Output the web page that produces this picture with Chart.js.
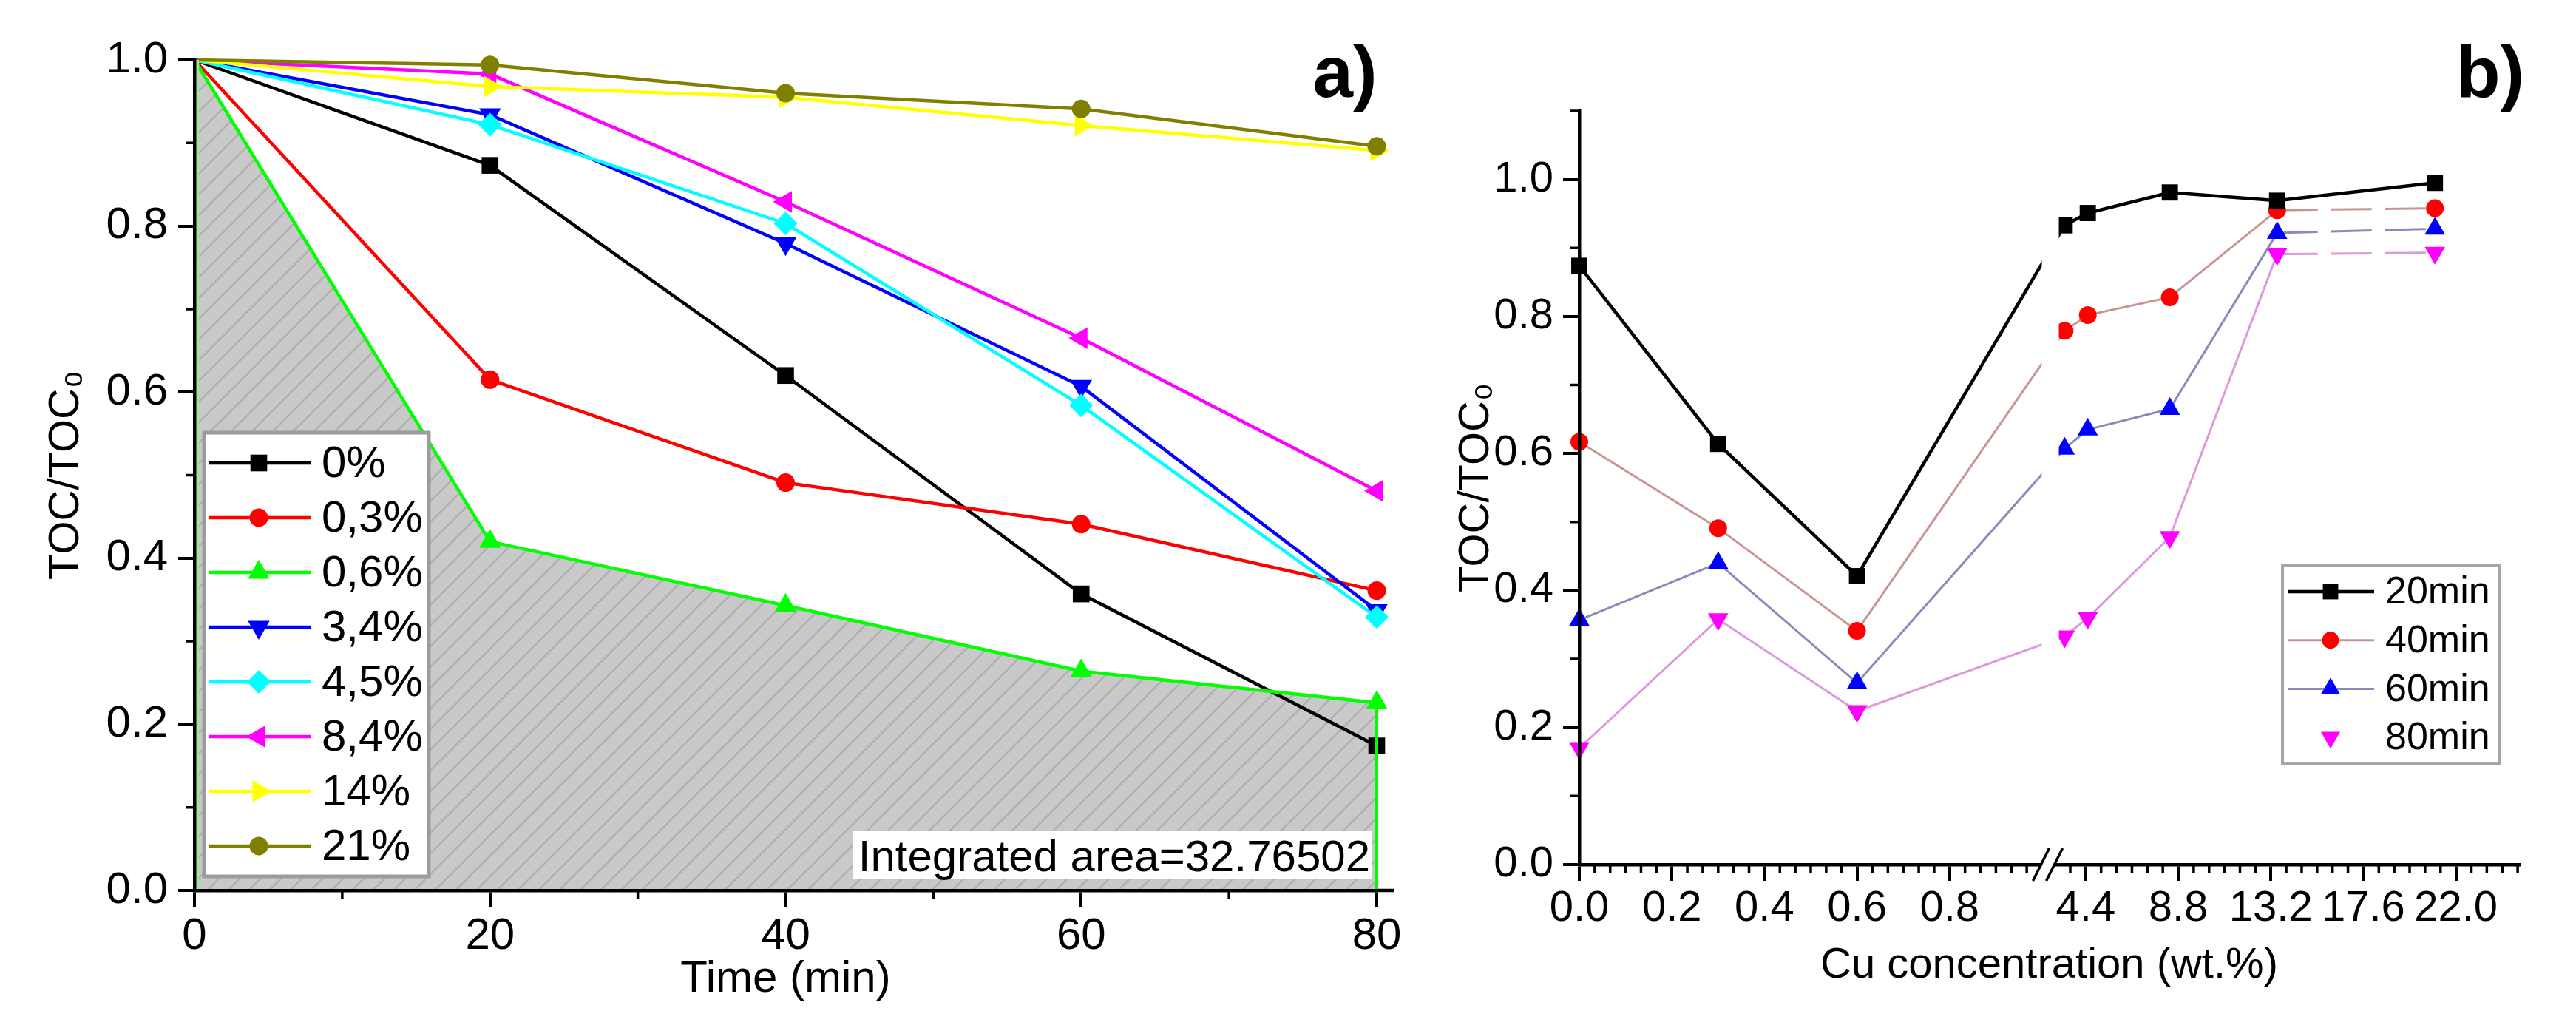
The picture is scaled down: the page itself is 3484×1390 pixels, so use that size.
<!DOCTYPE html>
<html><head><meta charset="utf-8">
<script src="https://cdn.jsdelivr.net/npm/chart.js@4.4.1/dist/chart.umd.min.js"></script>
<style>
html,body{margin:0;padding:0;background:#fff;}
body{width:3484px;height:1390px;position:relative;overflow:hidden;}
#wa{position:absolute;left:0;top:0;width:1950px;height:1390px;}
#wb{position:absolute;left:1950px;top:0;width:1534px;height:1390px;}
</style></head><body>
<div id="wa"><canvas id="ca"></canvas></div>
<div id="wb"><canvas id="cb"></canvas></div>
<script>
// ---------------- DATA ----------------
// Panel a) : TOC/TOC0 vs time for each Cu loading
const timeMin = [0, 20, 40, 60, 80];
const labelsA = ['0%', '0,3%', '0,6%', '3,4%', '4,5%', '8,4%', '14%', '21%'];
const toc_0pct  = [1.0, 0.873, 0.620, 0.357, 0.174];
const toc_03pct = [1.0, 0.615, 0.491, 0.441, 0.361];
const toc_06pct = [1.0, 0.420, 0.343, 0.264, 0.226];
const toc_34pct = [1.0, 0.934, 0.779, 0.607, 0.337];
const toc_45pct = [1.0, 0.922, 0.803, 0.584, 0.329];
const toc_84pct = [1.0, 0.983, 0.829, 0.665, 0.481];
const toc_14pct = [1.0, 0.968, 0.955, 0.921, 0.891];
const toc_21pct = [1.0, 0.994, 0.960, 0.941, 0.896];
const ticksA_x = [0, 20, 40, 60, 80];
const ticksA_y = [0, 0.2, 0.4, 0.6, 0.8, 1.0];
const areaText = 'Integrated area=32.76502';

// Panel b) : TOC/TOC0 vs Cu concentration for each time
const cuConc = [0, 0.3, 0.6, 3.4, 4.5, 8.4, 13.5, 21];
const labelsB = ['20min', '40min', '60min', '80min'];
const toc_20min = [0.874, 0.614, 0.421, 0.933, 0.951, 0.981, 0.969, 0.995];
const toc_40min = [0.617, 0.491, 0.341, 0.779, 0.802, 0.828, 0.955, 0.958];
const toc_60min = [0.357, 0.440, 0.265, 0.607, 0.635, 0.665, 0.922, 0.928];
const toc_80min = [0.170, 0.358, 0.224, 0.333, 0.360, 0.478, 0.891, 0.893];
const ticksB_x = [0, 0.2, 0.4, 0.6, 0.8, 4.4, 8.8, 13.2, 17.6, 22.0];
const ticksB_y = [0, 0.2, 0.4, 0.6, 0.8, 1.0];

// ---------------- STYLE ----------------
const FONT = "'Liberation Sans', Arial, Helvetica, sans-serif";
const brk = { end1: 0.98, start2: 3.3, end2: 25, unit1: 0.2, unit2: 4.4, gap: 0.32 };

function makeHatch() {
  const t = document.createElement('canvas'); t.width = 28; t.height = 28;
  const c = t.getContext('2d');
  c.fillStyle = '#c9c9c9'; c.fillRect(0, 0, 28, 28);
  c.strokeStyle = '#b0b0b0'; c.lineWidth = 2.5;
  c.beginPath();
  c.moveTo(-3, 31); c.lineTo(31, -3);
  c.moveTo(-3, 3); c.lineTo(3, -3);
  c.moveTo(25, 31); c.lineTo(31, 25);
  c.stroke();
  return c.createPattern(t, 'repeat');
}
const hatch = makeHatch();

const seriesA = [
  { label: labelsA[0], values: toc_0pct,  color: '#000000', style: 'rect',     rot: 0,   r: 16 },
  { label: labelsA[1], values: toc_03pct, color: '#ff0000', style: 'circle',   rot: 0,   r: 12.5 },
  { label: labelsA[2], values: toc_06pct, color: '#00ff00', style: 'triangle', rot: 0,   r: 17, fill: true },
  { label: labelsA[3], values: toc_34pct, color: '#0000ff', style: 'triangle', rot: 180, r: 17 },
  { label: labelsA[4], values: toc_45pct, color: '#00ffff', style: 'rectRot',  rot: 0,   r: 16 },
  { label: labelsA[5], values: toc_84pct, color: '#ff00ff', style: 'triangle', rot: -90, r: 17 },
  { label: labelsA[6], values: toc_14pct, color: '#ffff00', style: 'triangle', rot: 90,  r: 17 },
  { label: labelsA[7], values: toc_21pct, color: '#808000', style: 'circle',   rot: 0,   r: 12.5 }
];
const seriesB = [
  { label: labelsB[0], values: toc_20min, line: '#000000', marker: '#000000', style: 'rect',     rot: 0,   r: 15.5, w: 4.5, dashLast: false, legendLine: true },
  { label: labelsB[1], values: toc_40min, line: '#c99494', marker: '#ff0000', style: 'circle',   rot: 0,   r: 12,   w: 3,   dashLast: true,  legendLine: true },
  { label: labelsB[2], values: toc_60min, line: '#8a8ab8', marker: '#0000ff', style: 'triangle', rot: 0,   r: 16,   w: 3,   dashLast: true,  legendLine: true },
  { label: labelsB[3], values: toc_80min, line: '#dc9adc', marker: '#ff00ff', style: 'triangle', rot: 180, r: 16,   w: 3,   dashLast: true,  legendLine: false }
];

// ---------------- BROKEN AXIS SCALE ----------------
const LinearBase = Chart.LinearScale || Chart.registry.getScale('linear');
class BrokenLinearScale extends LinearBase {
  _u(v) {
    const u1 = brk.end1 / brk.unit1;
    if (v <= brk.end1) return v / brk.unit1;
    if (v >= brk.start2) return u1 + brk.gap + (v - brk.start2) / brk.unit2;
    return u1 + brk.gap * (v - brk.end1) / (brk.start2 - brk.end1);
  }
  getPixelForValue(v) {
    if (v === null || v === undefined || isNaN(v)) return NaN;
    return this.getPixelForDecimal(this._u(v) / this._u(brk.end2));
  }
  getValueForPixel(p) {
    const u = this.getDecimalForPixel(p) * this._u(brk.end2);
    const u1 = brk.end1 / brk.unit1;
    if (u <= u1) return u * brk.unit1;
    if (u >= u1 + brk.gap) return brk.start2 + (u - u1 - brk.gap) * brk.unit2;
    return brk.end1 + (u - u1) / brk.gap * (brk.start2 - brk.end1);
  }
}
BrokenLinearScale.id = 'brokenLinear';
BrokenLinearScale.defaults = {};
Chart.register(BrokenLinearScale);

// ---------------- HELPERS ----------------
function marker(ctx, style, rot, r, x, y, color) {
  ctx.save();
  ctx.fillStyle = color; ctx.strokeStyle = color;
  Chart.helpers.drawPoint(ctx, { pointStyle: style, rotation: rot, radius: r, borderWidth: 0 }, x, y);
  ctx.restore();
}
function drawMinor(chart, xs, ys, len) {
  const ctx = chart.ctx, a = chart.chartArea;
  const sx = chart.scales.x, sy = chart.scales.y;
  ctx.save(); ctx.strokeStyle = '#000'; ctx.lineWidth = 3.5; ctx.beginPath();
  xs.forEach(v => { const p = sx.getPixelForValue(v); ctx.moveTo(p, a.bottom); ctx.lineTo(p, a.bottom + len); });
  ys.forEach(v => { const p = sy.getPixelForValue(v); ctx.moveTo(a.left, p); ctx.lineTo(a.left - len, p); });
  ctx.stroke(); ctx.restore();
}
function drawLegend(chart, series, box, getLine, getMarker) {
  const ctx = chart.ctx;
  ctx.save();
  ctx.fillStyle = '#fff'; ctx.fillRect(box.x, box.y, box.w, box.h);
  ctx.strokeStyle = box.border; ctx.lineWidth = box.bw; ctx.strokeRect(box.x, box.y, box.w, box.h);
  series.forEach((s, i) => {
    const yy = box.row0 + i * box.rowH;
    const ln = getLine(s);
    if (ln) {
      ctx.strokeStyle = ln.color; ctx.lineWidth = ln.w;
      ctx.beginPath(); ctx.moveTo(box.lx1, yy); ctx.lineTo(box.lx2, yy); ctx.stroke();
    }
    const m = getMarker(s);
    marker(ctx, m.style, m.rot, m.r, box.mx, yy, m.color);
    ctx.fillStyle = '#000'; ctx.font = box.font; ctx.textBaseline = 'middle'; ctx.textAlign = 'left';
    ctx.fillText(s.label, box.tx, yy + 2);
  });
  ctx.restore();
}
function panelLabel(chart, text, x, y) {
  const ctx = chart.ctx;
  ctx.save(); ctx.fillStyle = '#000'; ctx.font = "bold 98px " + FONT;
  ctx.textAlign = 'center'; ctx.textBaseline = 'alphabetic';
  ctx.fillText(text, x, y); ctx.restore();
}
function axisOpts(o) {
  return {
    type: o.type || 'linear', min: o.min, max: o.max,
    afterBuildTicks: s => { s.ticks = o.ticks.map(v => ({ value: v })); },
    afterFit: o.fit,
    ticks: { color: '#000', font: { family: FONT, size: o.fs }, padding: o.pad, maxRotation: 0, autoSkip: false, callback: o.fmt },
    grid: { drawOnChartArea: false, drawTicks: true, tickLength: 22, tickWidth: 4, tickColor: '#000', lineWidth: 4, color: '#000' },
    border: { display: true, color: '#000', width: 4.5, z: 1 },
    title: { display: true, text: o.title, color: '#000', font: { family: FONT, size: o.tfs }, padding: o.tpad }
  };
}

// ---------------- PANEL A ----------------
const pluginA = {
  id: 'pa',
  afterDatasetsDraw(chart) {
    const ctx = chart.ctx, a = chart.chartArea, sx = chart.scales.x, sy = chart.scales.y;
    // edges of the filled area (0,6 % curve)
    const g = seriesA.find(s => s.fill);
    ctx.save();
    ctx.strokeStyle = '#9fe69f'; ctx.lineWidth = 4;
    ctx.beginPath(); ctx.moveTo(sx.getPixelForValue(timeMin[0]) + 4, sy.getPixelForValue(g.values[0])); ctx.lineTo(sx.getPixelForValue(timeMin[0]) + 4, sy.getPixelForValue(0)); ctx.stroke();
    ctx.strokeStyle = g.color; ctx.lineWidth = 4;
    const xl = sx.getPixelForValue(timeMin[timeMin.length - 1]);
    ctx.beginPath(); ctx.moveTo(xl, sy.getPixelForValue(g.values[g.values.length - 1])); ctx.lineTo(xl, sy.getPixelForValue(0)); ctx.stroke();
    // integrated-area annotation
    ctx.font = "60px " + FONT;
    const tw = ctx.measureText(areaText).width;
    ctx.fillStyle = '#fff';
    ctx.fillRect(a.right - tw - 16, a.bottom - 81, tw + 10, 65);
    ctx.fillStyle = '#000'; ctx.textAlign = 'right'; ctx.textBaseline = 'alphabetic';
    ctx.fillText(areaText, a.right - 9, a.bottom - 26);
    ctx.restore();
    drawLegend(chart, seriesA,
      { x: 276, y: 585, w: 304, h: 600, border: '#9c9c9c', bw: 5, row0: 626, rowH: 74, lx1: 282, lx2: 421, mx: 350, tx: 435, font: "60px " + FONT },
      s => ({ color: s.color, w: 4.5 }),
      s => ({ style: s.style, rot: s.rot, r: s.r, color: s.color }));
  },
  afterDraw(chart) {
    const ctx = chart.ctx, a = chart.chartArea;
    drawMinor(chart, [10, 30, 50, 70], [0.1, 0.3, 0.5, 0.7, 0.9], 12);
    // small extension of the x axis line past the last tick
    ctx.save(); ctx.strokeStyle = '#000'; ctx.lineWidth = 4.5;
    ctx.beginPath(); ctx.moveTo(a.right, a.bottom); ctx.lineTo(a.right + 23, a.bottom); ctx.stroke(); ctx.restore();
    panelLabel(chart, 'a)', 1819, 131);
  }
};

new Chart(document.getElementById('ca'), {
  type: 'line',
  data: {
    datasets: seriesA.map((s, i) => ({
      label: s.label,
      data: timeMin.map((t, j) => ({ x: t, y: s.values[j] })),
      borderColor: s.color,
      backgroundColor: s.fill ? hatch : s.color,
      borderWidth: 4.5,
      pointStyle: s.style,
      rotation: s.rot,
      pointRotation: s.rot,
      pointRadius: c => (c.dataIndex === 0 ? 0 : s.r),
      pointHoverRadius: c => (c.dataIndex === 0 ? 0 : s.r),
      pointBackgroundColor: s.color,
      pointBorderColor: s.color,
      pointBorderWidth: 0,
      fill: s.fill ? 'origin' : false,
      tension: 0,
      order: seriesA.length - i,
      clip: false
    }))
  },
  options: {
    responsive: true, maintainAspectRatio: false, animation: false, events: [],
    layout: { padding: { left: 0, top: 81, right: 88, bottom: 0 } },
    plugins: { legend: { display: false }, tooltip: { enabled: false }, filler: { drawTime: 'beforeDatasetsDraw' } },
    scales: {
      x: axisOpts({ min: 0, max: 80, ticks: ticksA_x, fit: s => { s.height = 186; }, fs: 60, pad: 4, fmt: v => String(v),
                    title: 'Time (min)', tfs: 60, tpad: { top: 0, bottom: 30 } }),
      y: axisOpts({ min: 0, max: 1, ticks: ticksA_y, fit: s => { s.width = 263; }, fs: 60, pad: 14, fmt: v => v.toFixed(1),
                    title: 'TOC/TOC\u2080', tfs: 58, tpad: { top: 55, bottom: 0 } })
    }
  },
  plugins: [pluginA]
});

// ---------------- PANEL B ----------------
const minorB_x = [];
for (let k = 1; k * brk.unit1 / 6 < brk.end1 - 0.001; k++) { if (k % 6) minorB_x.push(k * brk.unit1 / 6); }
for (let v = 4.4 - brk.unit2 / 6; v > brk.start2; v -= brk.unit2 / 6) minorB_x.push(v);
for (let k = 1; 4.4 + k * brk.unit2 / 6 < brk.end2 + 0.001; k++) { if (k % 6) minorB_x.push(4.4 + k * brk.unit2 / 6); }
const minorB_y = [0.1, 0.3, 0.5, 0.7, 0.9, 1.1];

const pluginB = {
  id: 'pb',
  afterDatasetsDraw(chart) {
    const ctx = chart.ctx, a = chart.chartArea, sx = chart.scales.x;
    const b1 = sx.getPixelForValue(brk.end1), b2 = sx.getPixelForValue(brk.start2);
    ctx.save(); ctx.fillStyle = '#fff';
    ctx.fillRect(b1 + 12, a.top, (b2 - 5) - (b1 + 12), a.bottom - a.top - 4);
    ctx.restore();
    drawLegend(chart, seriesB,
      { x: 1137, y: 765, w: 293, h: 268, border: '#a6a6a6', bw: 4, row0: 800, rowH: 65.7, lx1: 1145, lx2: 1261, mx: 1202, tx: 1276, font: "52px " + FONT },
      s => (s.legendLine ? { color: s.line, w: s.w } : null),
      s => ({ style: s.style, rot: s.rot, r: s.r * 0.95, color: s.marker }));
  },
  afterDraw(chart) {
    const ctx = chart.ctx, a = chart.chartArea, sx = chart.scales.x;
    drawMinor(chart, minorB_x, minorB_y, 12);
    const b1 = sx.getPixelForValue(brk.end1), b2 = sx.getPixelForValue(brk.start2);
    const y = a.bottom;
    ctx.save();
    ctx.fillStyle = '#fff'; ctx.fillRect(b1 + 12, y - 4, (b2 - b1) - 22, 8);
    ctx.strokeStyle = '#000'; ctx.lineWidth = 3.5; ctx.beginPath();
    ctx.moveTo(b1, y + 22); ctx.lineTo(b1 + 22, y - 22);
    ctx.moveTo(b2 - 22, y + 22); ctx.lineTo(b2, y - 22);
    ctx.stroke(); ctx.restore();
    panelLabel(chart, 'b)', 1418, 131);
  }
};

new Chart(document.getElementById('cb'), {
  type: 'line',
  data: {
    datasets: seriesB.map(s => ({
      label: s.label,
      data: cuConc.map((c, j) => ({ x: c, y: s.values[j] })),
      borderColor: s.line,
      backgroundColor: s.marker,
      borderWidth: s.w,
      pointStyle: s.style,
      rotation: s.rot,
      pointRotation: s.rot,
      pointRadius: s.r,
      pointHoverRadius: s.r,
      pointBackgroundColor: s.marker,
      pointBorderColor: s.marker,
      pointBorderWidth: 0,
      fill: false,
      tension: 0,
      clip: false,
      segment: { borderDash: c => (s.dashLast && c.p0.parsed.x >= 13 ? [55, 18] : undefined) }
    }))
  },
  options: {
    responsive: true, maintainAspectRatio: false, animation: false, events: [],
    layout: { padding: { left: 0, top: 150, right: 77, bottom: 0 } },
    plugins: { legend: { display: false }, tooltip: { enabled: false } },
    scales: {
      x: axisOpts({ type: 'brokenLinear', min: 0, max: brk.end2, ticks: ticksB_x, fit: s => { s.height = 221; }, fs: 58, pad: 3, fmt: v => v.toFixed(1),
                    title: 'Cu concentration (wt.%)', tfs: 58, tpad: { top: 0, bottom: 49 } }),
      y: axisOpts({ min: 0, max: 1.1, ticks: ticksB_y, fit: s => { s.width = 186; }, fs: 58, pad: 13, fmt: v => v.toFixed(1),
                    title: 'TOC/TOC\u2080', tfs: 58, tpad: { top: 12, bottom: 0 } })
    }
  },
  plugins: [pluginB]
});
</script>
</body></html>
